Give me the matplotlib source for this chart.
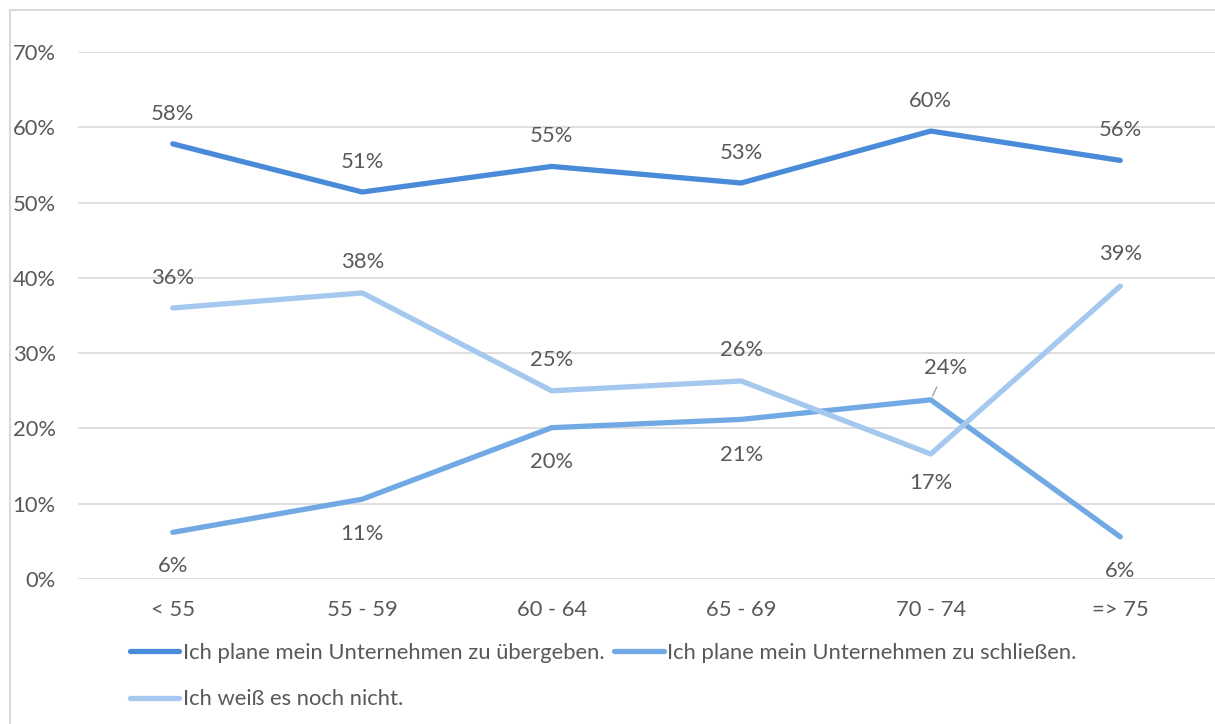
import matplotlib
matplotlib.use("Agg")
import matplotlib.pyplot as plt
from matplotlib.patches import Rectangle

# age groups and share of answers (in %)
categories = ["< 55", "55 - 59", "60 - 64", "65 - 69", "70 - 74", "=> 75"]
uebergeben = [57.8, 51.4, 54.8, 52.6, 59.5, 55.6]
schliessen = [6.2, 10.6, 20.1, 21.2, 23.8, 5.6]
weiss_nicht = [36.0, 38.0, 25.0, 26.3, 16.6, 38.9]

series_names = [
    "Ich plane mein Unternehmen zu übergeben.",
    "Ich plane mein Unternehmen zu schließen.",
    "Ich weiß es noch nicht.",
]
yticks = [0, 10, 20, 30, 40, 50, 60, 70]

c_text = "#595959"
c_grid = "#d9d9d9"
colors = ["#4a8bd9", "#70a9e3", "#a5c8ee"]
fs = 15.8

plt.rcParams["font.family"] = ["Lato", "DejaVu Sans"]

fig = plt.figure(figsize=(12.15, 7.24), dpi=100)
ax = fig.add_axes([78 / 1215, 1 - 579 / 724, 1137 / 1215, 527 / 724])

x = list(range(len(categories)))
lines = []
for vals, col, name in zip([uebergeben, schliessen, weiss_nicht], colors, series_names):
    ln, = ax.plot(x, vals, color=col, lw=3.8, solid_capstyle="round",
                  solid_joinstyle="round", label=name, zorder=3)
    lines.append(ln)

# data labels: offsets in pixels (negative = below)
label_off = {
    0: [30] * 6,
    1: [-34, -35, -34, -36, 32, -34],
    2: [30, 31, 31, 31, -29, 32],
}
for si, vals in enumerate([uebergeben, schliessen, weiss_nicht]):
    for i, v in enumerate(vals):
        dx = 15 if (si == 1 and i == 4) else 0
        kw = {}
        if si == 1 and i == 4:
            kw["arrowprops"] = dict(arrowstyle="-", color="#a6a6a6", lw=1,
                                    shrinkA=5, shrinkB=3)
        ax.annotate(f"{round(v)}%", (i, v), xytext=(dx, label_off[si][i]),
                    textcoords="offset pixels", ha="center", va="center",
                    fontsize=fs, color=c_text, zorder=4, **kw)

ax.set_xlim(-0.5, len(categories) - 0.5)
ax.set_ylim(0, 70)
ax.set_yticks(yticks)
ax.set_yticklabels([f"{t}%" for t in yticks])
ax.set_xticks(x)
ax.set_xticklabels(categories)
ax.grid(axis="y", color=c_grid, lw=1.2)
ax.set_axisbelow(True)
for s in ax.spines.values():
    s.set_visible(False)
ax.tick_params(length=0, labelsize=fs, labelcolor=c_text)
ax.tick_params(axis="y", pad=16)
ax.tick_params(axis="x", pad=15)

fig.legend([lines[0], lines[2], lines[1]],
           [series_names[0], series_names[2], series_names[1]],
           ncol=2, loc="upper left", bbox_to_anchor=(119 / 1215, 1 - 632 / 724),
           frameon=False, fontsize=fs, labelcolor=c_text,
           handlelength=2.25, handletextpad=0.15, columnspacing=0.45,
           labelspacing=1.2, borderpad=0)

fig.patches.append(Rectangle((10 / 1215, -0.1), 1.2, 1 - 10 / 724 + 0.1,
                             transform=fig.transFigure, fill=False,
                             edgecolor=c_grid, lw=1.5))

fig.savefig("out.png", dpi=100)
